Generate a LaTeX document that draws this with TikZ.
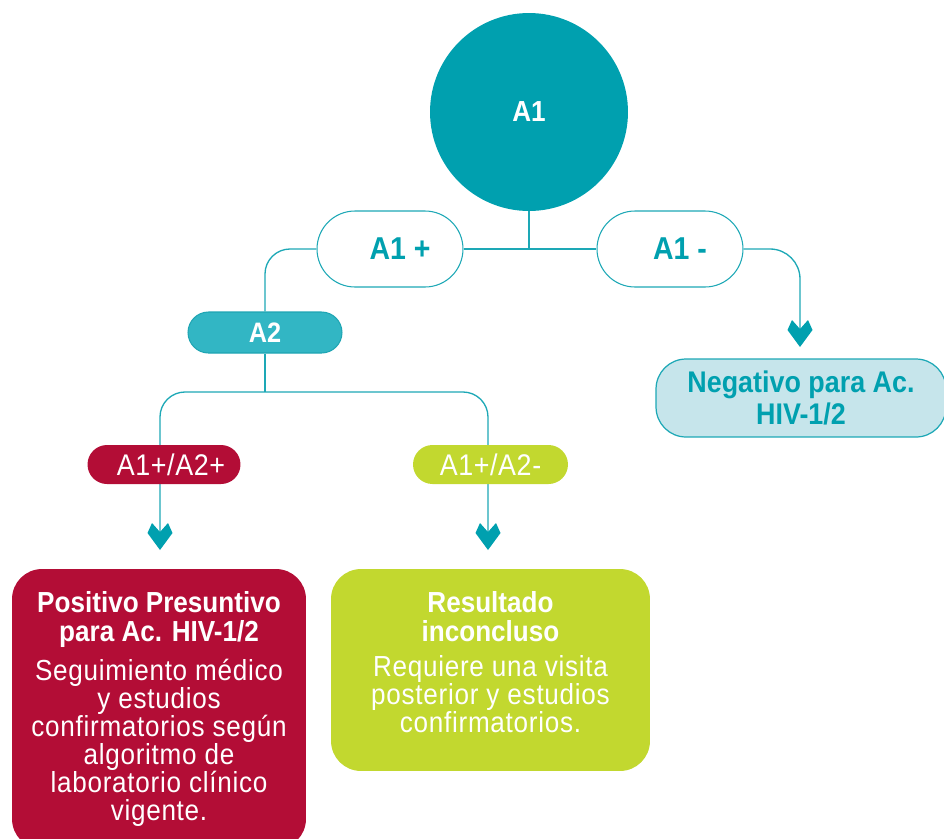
\documentclass[tikz,border=0pt]{standalone}
\usepackage{fontspec}
\setmainfont[FakeStretch=0.9]{Liberation Sans}
\usetikzlibrary{backgrounds}
\definecolor{tealmain}{HTML}{00A0AF}
\definecolor{tealline}{HTML}{1DA8B6}
\definecolor{atwofill}{HTML}{32B6C4}
\definecolor{atwoline}{HTML}{1FA5B3}
\definecolor{redbox}{HTML}{B30D36}
\definecolor{greenbox}{HTML}{C2D82F}
\definecolor{lightblue}{HTML}{C6E5EB}
\tikzset{
  conn/.style={draw=tealline, line width=0.75pt},
  pilltext/.style={font=\fontsize{18}{20}\selectfont\bfseries, text=tealmain},
  outlinepill/.style={draw=tealline, line width=0.6pt, fill=white,
    minimum width=2.92cm, minimum height=1.52cm, rounded corners=0.76cm, pilltext},
  smallpill/.style={minimum height=0.78cm, rounded corners=0.39cm, text=white,
    font=\fontsize{17}{19}\selectfont\addfontfeature{LetterSpace=2}},
  bigbox/.style={rounded corners=0.6cm, text=white, align=center,
    font=\fontsize{16.5}{15.9}\selectfont},
  chev/.pic={\fill[tealmain] (-12.5,1) -- (-8,-9) -- (0,0) -- (8,-9) -- (12.5,1) -- (0,18) -- cycle;}
}
\newcommand{\bodyfont}{\addfontfeature{LetterSpace=2.5}}
\begin{document}
\begin{tikzpicture}[x=0.02cm, y=-0.02cm]
\useasboundingbox (0,0) rectangle (944,839);
\clip (0,0) rectangle (944,839);

% top circle
\node[circle, fill=tealmain, minimum size=3.96cm, text=white,
      font=\fontsize{16.5}{18}\selectfont\bfseries] (A1) at (529,112) {A1};

% first-level pills
\node[outlinepill] (A1p) at (390,249) {\hspace{0.4cm}A1 +};
\node[outlinepill] (A1m) at (670,249) {\hspace{0.4cm}A1 -};

% A2
\node[fill=atwofill, draw=atwoline, line width=0.6pt, minimum width=3.08cm,
      minimum height=0.82cm, rounded corners=0.41cm, text=white,
      font=\fontsize{16}{18}\selectfont\bfseries] (A2) at (265,332.5) {A2};

% second-level pills
\node[smallpill, fill=redbox, minimum width=3.06cm] (pp) at (164,464.5) {\hspace{0.28cm}A1+/A2+};
\node[smallpill, fill=greenbox, minimum width=3.10cm] (pm) at (490.5,464.5) {A1+/A2-};

% negative result
\node[fill=lightblue, draw=tealline, line width=0.7pt, minimum width=5.8cm,
      minimum height=1.56cm, rounded corners=0.6cm, align=center, text=tealmain,
      font=\fontsize{17}{18.7}\selectfont\bfseries] (neg) at (801,398)
      {Negativo para Ac.\\HIV-1/2};

% positive box
\node[bigbox, fill=redbox, minimum width=5.88cm, minimum height=5.6cm] (pos) at (159,709)
  {\textbf{Positivo Presuntivo}\\[0.5pt]
   \textbf{para Ac. HIV-1/2}\\[6.2pt]
   {\bodyfont Seguimiento médico}\\
   {\bodyfont y estudios}\\
   {\bodyfont confirmatorios según}\\
   {\bodyfont algoritmo de}\\
   {\bodyfont laboratorio clínico}\\
   {\bodyfont vigente.}};

% inconclusive box
\node[bigbox, fill=greenbox, minimum width=6.38cm, minimum height=4.04cm] (inc) at (490.5,670)
  {\textbf{Resultado}\\[1.1pt]
   \textbf{inconcluso}\\[3.9pt]
   {\bodyfont Requiere una visita}\\
   {\bodyfont posterior y estudios}\\
   {\bodyfont confirmatorios.}\rule[-0.33cm]{0pt}{0.33cm}};

% arrow notches
\coordinate (nN) at (800,329);
\coordinate (nL) at (160,532);
\coordinate (nM) at (488,532);
\coordinate (split) at (265,392);

\begin{scope}[on background layer]
  \draw[conn] (A1.south) -- (A1.south |- A1p.east);
  \draw[conn] (A1p.east) -- (A1m.west);
  \draw[conn, rounded corners=0.5cm] (A1p.west) -| (A2.north);
  \draw[conn, rounded corners=0.6cm] (A1m.east) -| (nN);
  \draw[conn] (A2.south) -- (split);
  \draw[conn, rounded corners=0.5cm] (nL) |- (split) -| (nM);
\end{scope}

\pic at (nN) {chev};
\pic at (nL) {chev};
\pic at (nM) {chev};
\end{tikzpicture}
\end{document}
